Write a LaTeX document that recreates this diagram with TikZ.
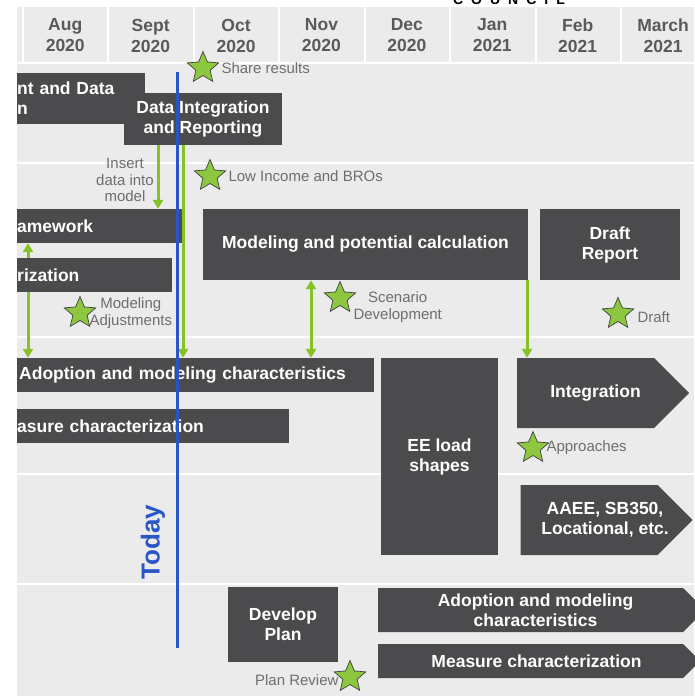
\documentclass[tikz,border=0pt]{standalone}
\usepackage{fontspec}
\setmainfont{Liberation Sans}
\usetikzlibrary{positioning,shapes.geometric,shapes.symbols,arrows.meta}
\pgfdeclarelayer{back}
\pgfdeclarelayer{mid}
\pgfsetlayers{back,mid,main}
\definecolor{pagegray}{HTML}{EBEBEB}
\definecolor{boxgray}{HTML}{4B4B4D}
\definecolor{headtext}{HTML}{5A5A5A}
\definecolor{notetext}{HTML}{6E6E6E}
\definecolor{arrowgreen}{HTML}{84C225}
\definecolor{stargreen}{HTML}{8DC63F}
\definecolor{todayblue}{HTML}{2A55C8}
\tikzset{
  task/.style={fill=boxgray, text=white, align=center, inner sep=2pt,
    font=\fontsize{17.5}{20}\selectfont\bfseries},
  cut/.style={anchor=west, align=left, inner xsep=0pt},
  flag/.style={signal, signal to=east, signal pointer angle=90},
  sep/.style={draw=white, line width=2pt},
  month/.style={text=headtext, align=center, font=\fontsize{17.5}{21}\selectfont\bfseries},
  mile/.style={star, star points=5, star point ratio=2.2, minimum size=33pt,
    inner sep=0pt, fill=stargreen, draw=black!75, line width=0.7pt},
  note/.style={text=notetext, align=center, inner sep=1pt,
    font=\fontsize{15}{16.5}\selectfont},
  feed/.style={draw=arrowgreen, line width=3pt, -{Triangle[width=10pt,length=9pt]}},
  feed2/.style={feed, {Triangle[width=10pt,length=9pt]}-{Triangle[width=10pt,length=9pt]}},
  todayline/.style={draw=todayblue, line width=3pt}
}
% shift a line of text right without widening it
\newcommand\nudge[2]{\hspace*{#1}#2\hspace*{-#1}}
\begin{document}
\begin{tikzpicture}[x=1pt,y=-1pt]
  \useasboundingbox (0,0) rectangle (694,696);
  \begin{pgfonlayer}{back}
    \fill[pagegray] (17,7) rectangle (694,696);
    \foreach \x in {22.5,108,193.5,279,364.5,450,535.5,621}
      \draw[sep] (\x,7) -- (\x,63);
    \draw[sep] (17,63) -- (694,63);
    \foreach \y in {163,337,474,584}
      \draw[sep] (17,\y) -- (694,\y);
  \end{pgfonlayer}
  \node[anchor=base, font=\fontsize{14}{14}\selectfont\bfseries] (council) at (509,4.5)
    {C\hspace{8pt}O\hspace{8pt}U\hspace{8pt}N\hspace{8pt}C\hspace{8pt}I\hspace{8pt}L};
  % months
  \foreach \m/\yr [count=\i] in {Aug/2020,Sept/2020,Oct/2020,Nov/2020,Dec/2020,Jan/2021,Feb/2021,March/2021}
    \node[month] (mon\i) at (65.25+85.4*\i-85.4,35.5) {\m\\\yr};
  % tasks
  \node[task, cut, text width=128pt, minimum height=51pt] (acq) at (17,98.5) {nt and Data\\n};
  \node[task, minimum width=158pt, minimum height=52pt] (dir) at (203,119) {Data Integration\\and Reporting};
  \node[task, cut, text width=168pt, minimum height=34pt] (frm) at (17,226) {amework};
  \node[task, cut, text width=155pt, minimum height=34pt] (riz) at (17,275) {rization};
  \node[task, minimum width=325pt, minimum height=71pt] (mpc) at (365.5,244.5) {Modeling and potential calculation};
  \node[task, minimum width=140pt, minimum height=71pt] (drf) at (610,244.5) {Draft\\Report};
  \node[task, cut, text width=353pt, inner xsep=2pt, minimum height=34pt] (adp) at (17,375) {Adoption and modeling characteristics};
  \node[task, cut, text width=272pt, minimum height=34pt] (msr) at (17,426) {asure characterization};
  \node[task, minimum width=117pt, minimum height=197pt] (eel) at (439.5,456.5) {EE load\\shapes};
  \node[task, flag, minimum width=172pt, minimum height=70pt] (integ) at (585.5,393) {\nudge{10pt}{Integration}};
  \node[task, flag, minimum width=172pt, minimum height=70pt] (aaee) at (589,520)
    {\nudge{16pt}{AAEE, SB350,}\\\nudge{16pt}{Locational, etc.}};
  \node[task, minimum width=110pt, minimum height=75pt] (dvp) at (283,624.5) {Develop\\Plan};
  \node[task, flag, minimum width=327pt, minimum height=44pt] (adp2) at (530.5,610)
    {\nudge{5pt}{Adoption and modeling}\\\nudge{5pt}{characteristics}};
  \node[task, flag, minimum width=322pt, minimum height=34pt] (msr2) at (530.5,661) {\nudge{6pt}{Measure characterization}};
  % green links
  \path (158,0) coordinate (xins) (183,0) coordinate (xdown) (28,0) coordinate (xleft)
        (311,0) coordinate (xscen) (527,0) coordinate (xint);
  \begin{pgfonlayer}{mid}
    \draw[feed2] (frm.south -| xleft) -- (adp.north -| xleft);
  \end{pgfonlayer}
  \draw[feed] (dir.south -| xins) -- (frm.north -| xins);
  \draw[feed] (dir.south -| xdown) -- (adp.north -| xdown);
  \draw[feed2] (mpc.south -| xscen) -- (adp.north -| xscen);
  \draw[feed] (mpc.south -| xint) -- (integ.north -| xint);
  \node[note] (ins) at (125,180) {Insert\\data into\\model};
  % milestones
  \node[mile] (s1) at (203,68) {};
  \node[note, right=7pt of s1] (n1) {Share results};
  \node[mile] (s2) at (210,176) {};
  \node[note, right=7pt of s2] (n2) {Low Income and BROs};
  \node[mile] (s3) at (80,313) {};
  \node[note, right=-2pt of s3] (n3) {Modeling\\Adjustments};
  \node[mile] (s4) at (340,298) {};
  \node[note, right=2pt of s4, yshift=-9pt] (n4) {Scenario\\Development};
  \node[mile] (s5) at (618,314) {};
  \node[note, right=8pt of s5, yshift=-3pt] (n5) {Draft};
  \node[mile] (s6) at (533,448) {};
  \node[note, right=2pt of s6] (n6) {Approaches};
  \node[mile] (s7) at (350,677) {};
  \node[note, left=0pt of s7, yshift=-3pt] (n7) {Plan Review};
  % today
  \coordinate (ttop) at (177,72);
  \coordinate (tbot) at (177,648);
  \draw[todayline] (ttop) -- (tbot);
  \node[rotate=90, text=todayblue, font=\fontsize{26}{26}\selectfont\bfseries] (today) at (153,542) {Today};
\end{tikzpicture}
\end{document}
